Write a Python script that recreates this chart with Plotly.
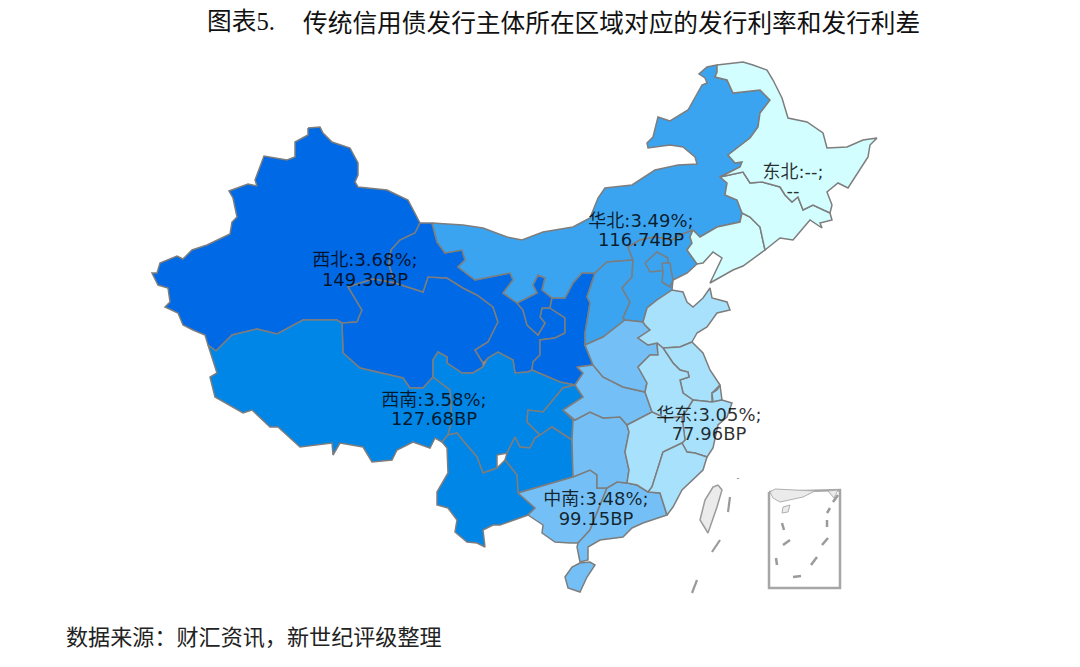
import plotly.graph_objects as go

# region values
REGIONS = ['西北', '西南', '华北', '中南', '华东', '东北']
RATES = ['3.68%', '3.58%', '3.49%', '3.48%', '3.05%', '--']
SPREADS = ['149.30BP', '127.68BP', '116.74BP', '99.15BP', '77.96BP', '--']
REGION_COLORS = ['#0069E5', '#0086E6', '#3AA4F0', '#74C0F6', '#A8E1FC', '#D2FEFF']
LABEL_X = [365, 434, 641, 596, 709, 793]
LABEL_Y = [261, 401, 222, 500, 416, 173]
LABEL_GAP = [20, 19, 19, 20, 19, 19]

# province outlines, in map units
XINJIANG = [(308,128),(320,127),(323,133),(332,142),(350,148),(358,163),(358,175),(355,182),(358,187),(387,190),(408,200),(420,223),
            (415,233),(400,240),(391,250),(389,265),(395,283),(373,279),(348,287),(350,290),(362,310),(357,322),(342,323),(337,320),(303,320),
            (277,334),(257,329),(232,335),(216,351),(208,345),(205,335),(193,330),(183,325),(178,313),(165,307),(170,302),(168,288),(158,285),
            (152,273),(157,273),(160,263),(177,256),(183,259),(192,250),(207,245),(230,234),(232,222),(237,217),(233,198),(229,191),(248,184),
            (257,186),(255,180),(264,156),(287,160),(295,157),(295,142),(308,135)]
TIBET = [(216,351),(232,335),(257,329),(277,334),(303,320),(337,320),(342,323),(343,353),(360,368),(403,378),(410,388),(423,388),(433,377),
         (450,390),(452,420),(448,435),(442,442),(435,438),(430,448),(413,442),(397,450),(392,460),(372,462),(363,447),(340,443),(333,455),
         (332,443),(300,447),(278,427),(270,427),(252,410),(243,413),(215,397),(210,377),(217,373),(208,345)]
QINGHAI = [(348,287),(373,279),(395,283),(417,290),(423,292),(428,277),(447,278),(463,288),(477,295),(493,307),(498,322),(488,342),(475,350),
           (483,363),(483,367),(473,373),(462,373),(447,363),(447,357),(438,352),(433,360),(433,377),(423,388),(410,388),(403,378),(360,368),
           (343,353),(342,323),(357,322),(362,310),(350,290)]
GANSU = [(420,223),(432,223),(437,242),(445,253),(462,250),(465,260),(458,267),(475,280),(485,278),(510,273),(513,280),(503,293),(517,303),
         (523,310),(527,325),(538,335),(545,323),(540,317),(542,308),(550,308),(565,318),(565,333),(555,338),(540,340),(540,355),(533,362),
         (532,370),(528,372),(515,373),(513,360),(498,352),(488,358),(483,363),(475,350),(488,342),(498,322),(493,307),(477,295),(463,288),
         (447,278),(428,277),(423,292),(417,290),(395,283),(389,265),(391,250),(400,240),(415,233)]
NINGXIA = [(517,303),(537,293),(533,285),(538,275),(545,278),(542,290),(552,298),(550,308),(542,308),(540,317),(545,323),(538,335),(527,325),(523,310)]
SHAANXI = [(552,298),(565,298),(573,283),(582,273),(595,273),(587,297),(590,303),(585,333),(585,345),(593,365),(577,367),(583,373),(575,385),
           (560,382),(532,370),(533,362),(540,355),(540,340),(555,338),(565,333),(565,318),(550,308)]
SICHUAN = [(433,377),(433,360),(438,352),(447,357),(447,363),(462,373),(473,373),(483,367),(488,358),(498,352),(513,360),(515,373),(528,372),
           (532,370),(560,382),(575,385),(563,388),(543,412),(528,410),(527,422),(540,435),(535,438),(530,448),(520,447),(515,437),(507,453),
           (497,455),(497,468),(483,473),(477,457),(465,443),(457,433),(448,435),(452,420),(450,390)]
CHONGQING = [(575,385),(563,388),(543,412),(528,410),(527,422),(540,435),(552,427),(572,440),(573,420),(563,410),(583,397)]
GUIZHOU = [(540,435),(552,427),(572,440),(573,477),(535,488),(518,493),(517,475),(505,460),(507,453),(515,437),(520,447),(530,448),(535,438)]
YUNNAN = [(448,435),(457,433),(465,443),(477,457),(483,473),(497,468),(505,460),(517,475),(518,493),(535,508),(528,515),(500,525),(493,525),
          (483,530),(485,547),(477,543),(467,542),(455,532),(457,520),(448,508),(437,505),(437,492),(448,473),(447,448),(442,442)]
GUANGXI = [(518,493),(535,488),(573,477),(590,470),(597,475),(597,488),(607,488),(590,530),(578,543),(570,543),(555,542),(542,533),(543,525),
           (528,515),(535,508)]
GUANGDONG = [(607,488),(617,482),(627,483),(637,485),(648,492),(660,493),(667,515),(643,523),(632,528),(623,537),(600,540),(588,547),(588,560),
             (580,562),(577,547),(578,543),(590,530)]
HAINAN = [(580,563),(590,562),(595,565),(587,577),(580,592),(568,588),(565,577),(572,567)]
HUNAN = [(575,420),(590,412),(603,418),(620,417),(627,425),(629,432),(625,452),(629,470),(627,483),(617,482),(607,488),(597,488),(597,475),
         (590,470),(573,477),(572,440),(573,420)]
HUBEI = [(593,365),(603,377),(623,387),(645,392),(652,412),(627,425),(620,417),(603,418),(590,412),(575,420),(563,410),(583,397),(575,385),
         (583,373),(577,367)]
HENAN = [(585,345),(603,337),(625,320),(643,322),(645,325),(650,330),(638,338),(648,345),(657,343),(658,355),(650,355),(638,367),(647,383),
         (645,392),(623,387),(603,377),(593,365)]
SHANXI = [(595,273),(607,262),(633,260),(632,277),(622,288),(630,302),(623,318),(625,320),(603,337),(585,345),(585,333),(590,303),(587,297)]
HEBEI = [(633,260),(628,247),(640,240),(655,237),(672,240),(680,235),(693,230),(690,237),(692,243),(687,250),(697,264),(687,273),(673,280),
         (672,290),(657,300),(647,308),(643,322),(625,320),(623,318),(630,302),(622,288),(632,277)]
BEIJING = [(645,263),(657,252),(668,258),(667,270),(650,272)]
TIANJIN = [(662,263),(670,263),(672,275),(673,280),(670,287),(662,282),(663,272)]
SHANDONG = [(643,322),(647,308),(657,300),(672,290),(683,292),(687,302),(693,307),(703,298),(710,288),(712,298),(727,302),(730,310),(717,313),
            (707,327),(697,333),(692,342),(680,347),(663,348),(657,343),(648,345),(638,338),(650,330),(645,325)]
JIANGSU = [(692,342),(703,353),(710,370),(720,385),(712,393),(712,402),(693,400),(683,393),(680,380),(689,377),(688,372),(680,370),(673,363),
           (663,348),(680,347)]
ANHUI = [(638,367),(650,355),(658,355),(657,343),(663,348),(673,363),(680,370),(688,372),(689,377),(680,380),(683,393),(693,400),(687,410),
         (682,417),(665,418),(652,412),(645,392),(647,383)]
SHANGHAI = [(720,385),(717,390),(712,393),(713,402),(722,400)]
ZHEJIANG = [(693,400),(712,402),(722,400),(732,403),(727,417),(718,425),(713,448),(707,457),(695,453),(687,452),(682,443),(685,440),(682,417),(687,410)]
JIANGXI = [(627,425),(652,412),(665,418),(682,417),(685,440),(682,443),(663,452),(657,470),(652,487),(648,492),(637,485),(627,483),(629,470),
           (625,452),(629,432)]
FUJIAN = [(682,443),(687,452),(695,453),(707,457),(703,470),(693,480),(682,490),(673,507),(667,515),(660,493),(648,492),(652,487),(657,470),(663,452)]
NEIMENGGU = [(432,223),(463,225),(483,228),(507,237),(522,240),(543,232),(573,227),(590,218),(598,198),(605,188),(632,185),(655,170),(678,165),
             (697,164),(695,157),(683,147),(670,145),(648,148),(647,143),(653,137),(658,117),(670,121),(688,110),(702,85),(707,83),(705,78),
             (699,74),(707,67),(717,65),(717,72),(715,77),(727,80),(733,93),(760,90),(770,100),(760,113),(758,127),(750,138),(728,155),(735,163),
             (742,162),(740,167),(720,177),(727,183),(725,195),(737,200),(742,213),(740,222),(717,227),(700,237),(693,230),(680,235),(672,240),
             (655,237),(640,240),(628,247),(633,260),(607,262),(595,273),(582,273),(573,283),(565,298),(552,298),(542,290),(545,278),(538,275),
             (533,285),(537,293),(517,303),(503,293),(513,280),(510,273),(485,278),(475,280),(458,267),(465,260),(462,250),(445,253),(437,242)]
LIAONING = [(693,230),(700,237),(717,227),(740,222),(742,213),(750,217),(760,227),(765,250),(743,266),(733,270),(710,283),(722,258),(713,252),
            (703,263),(697,264),(687,250),(692,243),(690,237)]
JILIN = [(720,177),(743,172),(750,183),(762,182),(780,187),(785,195),(792,202),(798,197),(803,210),(813,205),(830,213),(832,220),(820,223),
         (822,228),(810,220),(793,240),(780,238),(765,250),(760,227),(750,217),(742,213),(737,200),(725,195),(727,183)]
HEILONGJIANG = [(717,65),(743,62),(753,65),(767,70),(773,80),(782,98),(788,118),(807,122),(823,133),(827,148),(847,147),(863,140),(877,138),
                (870,145),(868,157),(855,178),(848,188),(838,183),(827,192),(832,205),(830,213),(813,205),(803,210),(798,197),(792,202),(785,195),
                (780,187),(762,182),(750,183),(743,172),(720,177),(740,167),(742,162),(735,163),(728,155),(750,138),(758,127),(760,113),(770,100),
                (760,90),(733,93),(727,80),(715,77),(717,72)]
TAIWAN = [(718,485),(722,490),(717,507),(708,533),(700,520),(705,500),(713,487)]

REGION_SHAPES = {
    '西北': [XINJIANG, QINGHAI, GANSU, NINGXIA, SHAANXI],
    '西南': [TIBET, SICHUAN, CHONGQING, GUIZHOU, YUNNAN],
    '华北': [NEIMENGGU, SHANXI, HEBEI, BEIJING, TIANJIN],
    '中南': [GUANGXI, GUANGDONG, HAINAN, HUNAN, HUBEI, HENAN],
    '华东': [SHANDONG, JIANGSU, ANHUI, SHANGHAI, ZHEJIANG, JIANGXI, FUJIAN],
    '东北': [LIAONING, JILIN, HEILONGJIANG],
}

# sea islands, nine dash line and its inset
SEA_DASHES = [[(730,497),(728,512)], [(720,540),(712,552)], [(697,580),(692,593)], [(738,478),(738,479)]]
INSET_FRAME = [(769,492),(840,490),(840,588),(769,588)]
INSET_LAND = [[(770,492),(775,489),(815,491),(803,497),(780,502),(773,498)], [(828,491),(838,490),(834,498)], [(782,513),(783,507),(790,505),(788,512)]]
INSET_DASHES = [[(782,523),(784,530)], [(783,545),(790,540)], [(776,558),(777,565)], [(793,577),(801,576)], [(811,565),(817,557)],
                [(822,545),(828,538)], [(827,520),(827,527)], [(827,513),(830,508)], [(833,502),(838,495)]]

TITLE_NO = '图表5.'
TITLE = '传统信用债发行主体所在区域对应的发行利率和发行利差'
SOURCE = '数据来源：财汇资讯，新世纪评级整理'

BORDER = '#7d7d7d'
CJK = 'Noto Sans CJK SC'


def area(points, color, line=BORDER, width=1.5):
    return go.Scatter(x=[p[0] for p in points] + [points[0][0]], y=[p[1] for p in points] + [points[0][1]],
                      mode='lines', fill='toself', fillcolor=color, line=dict(color=line, width=width),
                      hoverinfo='skip', showlegend=False)


def dash(points, width=2.2):
    return go.Scatter(x=[p[0] for p in points], y=[p[1] for p in points], mode='lines',
                      line=dict(color='#9a9a9a', width=width), hoverinfo='skip', showlegend=False)


fig = go.Figure()

for region, color in zip(REGIONS, REGION_COLORS):
    for shape in REGION_SHAPES[region]:
        fig.add_trace(area(shape, color))

fig.add_trace(area(TAIWAN, '#EBEBEB', line='#9a9a9a'))
for d in SEA_DASHES:
    fig.add_trace(dash(d))

fig.add_trace(area(INSET_FRAME, 'white', line='#a6a6a6', width=2.5))
for shape in INSET_LAND:
    fig.add_trace(area(shape, '#EBEBEB', line='#b0b0b0', width=1))
for d in INSET_DASHES:
    fig.add_trace(dash(d, width=2.5))

# two lines of every region label
labelFont = dict(family='DejaVu Sans, ' + CJK, size=18, color='rgba(0,0,0,0.82)')
fig.add_trace(go.Scatter(x=LABEL_X, y=LABEL_Y, mode='text', textposition='middle center',
                         text=[f'{r}:{v};' for r, v in zip(REGIONS, RATES)],
                         textfont=labelFont, hoverinfo='skip', showlegend=False))
fig.add_trace(go.Scatter(x=LABEL_X, y=[y + g for y, g in zip(LABEL_Y, LABEL_GAP)], mode='text', textposition='middle center',
                         text=SPREADS, textfont=labelFont, hoverinfo='skip', showlegend=False))

fig.add_annotation(x=205, y=21, xref='x', yref='y', text=TITLE_NO, showarrow=False, xanchor='left',
                   font=dict(family='Liberation Serif, ' + CJK, size=24.7, color='#111111'))
fig.add_annotation(x=301, y=21, xref='x', yref='y', text=TITLE, showarrow=False, xanchor='left',
                   font=dict(family=CJK, size=24.7, color='#111111'))
fig.add_annotation(x=64, y=635, xref='x', yref='y', text=SOURCE, showarrow=False, xanchor='left',
                   font=dict(family=CJK, size=22.1, color='#222222'))

fig.update_xaxes(range=[0, 1080], visible=False, fixedrange=True)
fig.update_yaxes(range=[667, 0], visible=False, fixedrange=True)
fig.update_layout(width=1080, height=667, margin=dict(l=0, r=0, t=0, b=0),
                  plot_bgcolor='white', paper_bgcolor='white')

fig.write_html("out.html", config=dict(displayModeBar=False),
               post_script="document.body.style.margin='0';document.body.style.overflow='hidden';")
